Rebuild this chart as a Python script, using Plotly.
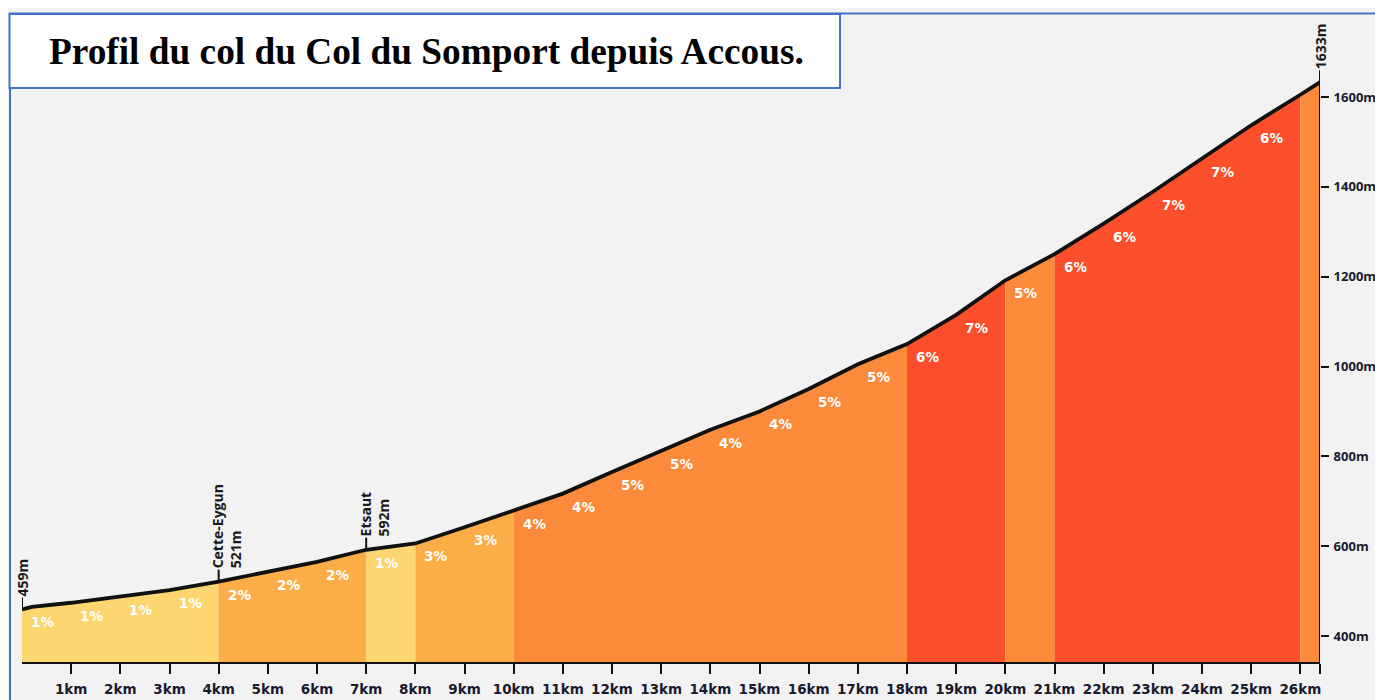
import plotly.graph_objects as go

# Profile data
km = [0, 0.2, 1, 2, 3, 4, 5, 6, 7, 8, 9, 10, 11, 12, 13, 14, 15, 16, 17, 18,
      19, 20, 21, 22, 23, 24, 25, 26, 26.4]
elev = [459, 465, 474, 487, 502, 521, 543, 565, 592, 606, 642, 679, 717, 765,
        812, 859, 900, 950, 1005, 1050, 1115, 1192, 1250, 1318, 1389, 1462,
        1537, 1605, 1633]

# coloured sections (start km, end km, colour)
seg_start = [0, 4, 7, 8, 10, 18, 20, 21, 26]
seg_end = [4, 7, 8, 10, 18, 20, 21, 26, 26.4]
seg_color = ['#FDD66F', '#FBAE47', '#FDD66F', '#FBAE47', '#FB8B3B',
             '#FA4F2A', '#FB8B3B', '#FA4F2A', '#FB8B3B']

# gradient label for each kilometre
pct_km = list(range(26))
pct_text = ['1%', '1%', '1%', '1%', '2%', '2%', '2%', '1%', '3%', '3%',
            '4%', '4%', '5%', '5%', '4%', '4%', '5%', '5%', '6%', '7%',
            '5%', '6%', '6%', '7%', '7%', '6%']

# places along the climb
place_km = [0, 4, 7, 26.4]
place_elev = [459, 521, 592, 1633]
place_text = ['459m', 'Cette-Eygun<br>521m', 'Etsaut<br>592m', '1633m']
place_xshift = [0, 8, 8, 0]

x_ticks = list(range(1, 27)) + [26.4]
x_labels = [f'{i}km' for i in range(1, 27)] + ['']
y_ticks = [400, 600, 800, 1000, 1200, 1400, 1600]
y_labels = [f'{v}m' for v in y_ticks]

y_min, y_max = 342.1, 1784.8
title = 'Profil du col du Col du Somport depuis Accous.'

# the page puts the figure 8px in from the top-left corner
OFF = 8
W, H = 1383 - OFF, 700 - OFF
ML, MR, MT, MB = 14, 63, 6, 38
PW, PH = W - ML - MR, H - MT - MB


def px_x(p):
    # screen pixel (reference picture) -> paper fraction
    return (p - OFF - ML) / PW


def px_y(p):
    return (H - MB - (p - OFF)) / PH


def elev_at(k):
    for i in range(len(km) - 1):
        if km[i] <= k <= km[i + 1]:
            t = (k - km[i]) / (km[i + 1] - km[i])
            return elev[i] + t * (elev[i + 1] - elev[i])
    return elev[-1]


fig = go.Figure()

# filled sections
for s, e, c in zip(seg_start, seg_end, seg_color):
    xs = [k for k in km if s <= k <= e]
    ys = [elev[km.index(k)] for k in xs]
    fig.add_trace(go.Scatter(x=xs, y=ys, mode='lines', fill='tozeroy',
                             fillcolor=c, line=dict(width=0, color=c),
                             hoverinfo='skip', showlegend=False))

# profile line
fig.add_trace(go.Scatter(x=km, y=elev, mode='lines',
                         line=dict(color='#111111', width=3.8),
                         showlegend=False))

# vertical line at the summit
fig.add_trace(go.Scatter(x=[km[-1], km[-1]], y=[y_min, elev[-1]], mode='lines',
                         line=dict(color='#111111', width=2), showlegend=False))

annotations = []
for k, t in zip(pct_km, pct_text):
    annotations.append(dict(x=k + 0.42, y=elev_at(k), text=t, showarrow=False,
                            yshift=-13, yanchor='middle',
                            font=dict(family='DejaVu Sans', size=13.5,
                                      color='white', weight='bold')))

shapes = []
for k, e, t, xs in zip(place_km, place_elev, place_text, place_xshift):
    shapes.append(dict(type='line', xref='x', yref='y', ysizemode='pixel',
                       yanchor=e, x0=k, x1=k, y0=0, y1=12,
                       line=dict(color='#111111', width=2)))
    annotations.append(dict(x=k, y=e, text=t, showarrow=False, textangle=-90,
                            xanchor='center', yanchor='bottom', yshift=11,
                            xshift=xs, align='left',
                            font=dict(family='Open Sans', size=14,
                                      color='#1a1a1a', weight='bold')))

# frame: blue border and title box
shapes += [
    dict(type='line', xref='paper', yref='paper', x0=px_x(9), x1=px_x(1383),
         y0=px_y(13.5), y1=px_y(13.5), line=dict(color='#4472C4', width=2)),
    dict(type='line', xref='paper', yref='paper', x0=px_x(10), x1=px_x(10),
         y0=px_y(700), y1=px_y(13), line=dict(color='#4472C4', width=2)),
    dict(type='rect', xref='paper', yref='paper', x0=px_x(9.5), x1=px_x(840),
         y0=px_y(88), y1=px_y(14), fillcolor='white',
         line=dict(color='#4472C4', width=2)),
]
annotations.append(dict(xref='paper', yref='paper', x=px_x(426), y=px_y(51),
                        text=title, showarrow=False, xanchor='center',
                        yanchor='middle',
                        font=dict(family='Liberation Serif', size=37.3,
                                  color='black', weight='bold')))

x_font = dict(family='DejaVu Sans', size=13.5, color='#1a1a2e', weight='bold')
y_font = dict(family='Open Sans', size=13, color='#1a1a2e', weight='bold')

fig.update_layout(
    width=W, height=H,
    margin=dict(l=ML, r=MR, t=MT, b=MB),
    paper_bgcolor='#F2F2F2', plot_bgcolor='#F2F2F2',
    showlegend=False,
    shapes=shapes, annotations=annotations,
    xaxis=dict(range=[0, km[-1]], tickvals=x_ticks, ticktext=x_labels,
               ticks='outside', ticklen=10, tickwidth=2, tickcolor='#111111',
               ticklabelstandoff=4, automargin=False,
               showline=True, linecolor='#111111', linewidth=2,
               showgrid=False, zeroline=False, tickfont=x_font),
    yaxis=dict(range=[y_min, y_max], side='right', tickvals=y_ticks,
               ticktext=y_labels, ticks='outside', ticklen=8, tickwidth=2,
               tickcolor='#111111', showline=False, showgrid=False,
               ticklabelstandoff=2,
               zeroline=False, automargin=False, tickfont=y_font),
)

fig.write_html("out.html")
